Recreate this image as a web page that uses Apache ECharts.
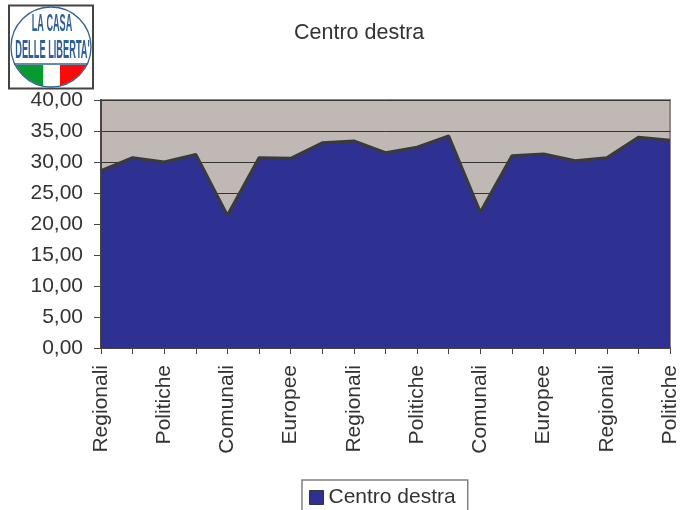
<!DOCTYPE html>
<html>
<head>
<meta charset="utf-8">
<style>html,body{margin:0;padding:0;background:#fff}#c{width:686px;height:510px}</style>
<script src="https://cdn.jsdelivr.net/npm/echarts@6/dist/echarts.min.js"></script>
</head>
<body>
<div id="c"></div>
<script>
const categories = ['Regionali','','Politiche','','Comunali','','Europee','','Regionali','','Politiche','','Comunali','','Europee','','Regionali','','Politiche'];
const values = [28.6,30.7,30.0,31.2,21.4,30.7,30.6,33.1,33.4,31.5,32.4,34.2,21.9,31.0,31.3,30.2,30.7,34.0,33.5];
const seriesName = 'Centro destra';
const FONT = '"Liberation Sans", Arial, sans-serif';
const TEXT = '#333333';

// Logo: segment of the disc below the band, split in three colours
const cx = 51, cy = 47, r = 39.5, bandY = 65;
function seg(x0, x1, fill) {
  const pts = [], steps = 16;
  const xa = Math.max(x0, cx - Math.sqrt(r*r-(bandY-cy)*(bandY-cy)));
  const xb = Math.min(x1, cx + Math.sqrt(r*r-(bandY-cy)*(bandY-cy)));
  pts.push([xa, bandY], [xb, bandY]);
  for (let i = 0; i <= steps; i++) {
    const x = xb + (xa - xb) * i / steps;
    pts.push([x, cy + Math.sqrt(Math.max(0, r*r-(x-cx)*(x-cx)))]);
  }
  return {type:'polygon', shape:{points:pts}, style:{fill}, z:11};
}
const logoText = (t, x, y, sx, size) => ({type:'text', x, y, scaleX:sx, z:12,
  style:{text:t, fill:'#2f5f96', font:'bold '+size+'px "Liberation Sans Narrow", "Liberation Sans", sans-serif', align:'center', verticalAlign:'middle'}});

const chart = echarts.init(document.getElementById('c'), null, {renderer:'canvas'});
chart.setOption({
  animation:false,
  backgroundColor:'#fff',
  title:{text:seriesName, left:294, top:22,
    textStyle:{fontFamily:FONT, fontSize:21.5, fontWeight:'normal', color:TEXT}, padding:0},
  legend:{show:true, left:302, top:480, orient:'horizontal', padding:[7,12,16,7],
    borderColor:'#808080', borderWidth:1.5, backgroundColor:'#fff',
    itemWidth:14, itemHeight:14, itemGap:0, icon:'rect',
    itemStyle:{color:'#2e3192', borderColor:'#333', borderWidth:1},
    textStyle:{fontFamily:FONT, fontSize:21, color:TEXT},
    data:[seriesName]},
  grid:{left:101, right:16, top:100, bottom:162, show:true, backgroundColor:'#c0b8b5',
    borderColor:'#8f8683', borderWidth:2, containLabel:false},
  xAxis:{type:'category', boundaryGap:false, data:categories,
    axisLine:{lineStyle:{color:'#4a4542', width:2}},
    axisTick:{show:true, interval:0, length:6, lineStyle:{color:'#4a4542', width:1}},
    axisLabel:{interval:0, rotate:90, margin:17, fontFamily:FONT, fontSize:21, color:TEXT},
    splitLine:{show:false}},
  yAxis:{type:'value', min:0, max:40, interval:5,
    axisLine:{show:true, lineStyle:{color:'#4a4542', width:2}},
    axisTick:{show:true, length:7, lineStyle:{color:'#4a4542', width:1}},
    axisLabel:{margin:18, fontFamily:FONT, fontSize:21, color:TEXT,
      formatter:v=>v.toFixed(2).replace('.',',')},
    splitLine:{show:true, lineStyle:{color:'#333', width:1, type:'solid'}}},
  series:[{name:seriesName, type:'line', data:values, showSymbol:false, symbol:'none', smooth:false,
    lineStyle:{color:'#3a3a3a', width:3},
    itemStyle:{color:'#2e3192'},
    areaStyle:{color:'#2e3192', opacity:1}}],
  graphic:{elements:[
    {type:'rect', shape:{x:9,y:5.5,width:84,height:83}, style:{fill:'#fff', stroke:'#444', lineWidth:2}, z:10},
    seg(0,43.5,'#079a2e'), seg(43.5,60,'#ffffff'), seg(60,200,'#fb0a0a'),
    {type:'circle', shape:{cx,cy,r:40}, style:{fill:'none', stroke:'#33638f', lineWidth:1.3}, z:12},
    {type:'line', shape:{x1:14,y1:64,x2:88,y2:64}, style:{stroke:'#33638f', lineWidth:1.3}, z:12},
    logoText('LA CASA', 52, 24, 0.38, 24),
    logoText("DELLE LIBERTA'", 52.5, 51, 0.37, 25)
  ]}
});
</script>
</body>
</html>
